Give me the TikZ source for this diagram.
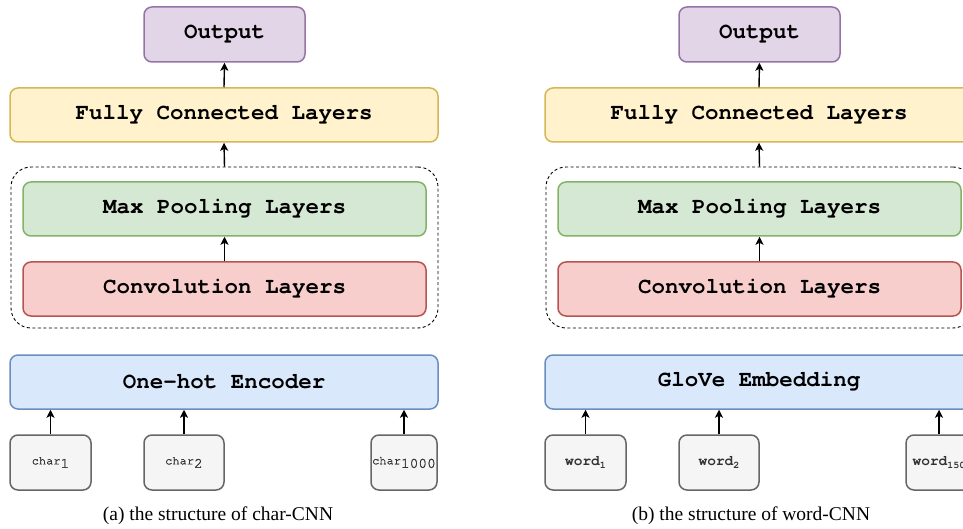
\documentclass[tikz,border=0pt]{standalone}
\usepackage{fontspec}
\setmainfont{Liberation Serif}
\setmonofont{TeX Gyre Cursor}
\newfontfamily\tokfont{TeX Gyre Cursor}[FakeBold=1.6]
\usetikzlibrary{arrows.meta}

\definecolor{outF}{HTML}{E1D5E7}\definecolor{outD}{HTML}{9673A6}
\definecolor{fcF}{HTML}{FFF2CC}\definecolor{fcD}{HTML}{D6B656}
\definecolor{poolF}{HTML}{D5E8D4}\definecolor{poolD}{HTML}{82B366}
\definecolor{convF}{HTML}{F8CECC}\definecolor{convD}{HTML}{B85450}
\definecolor{encF}{HTML}{DAE8FC}\definecolor{encD}{HTML}{6C8EBF}
\definecolor{inF}{HTML}{F5F5F5}\definecolor{inD}{HTML}{666666}
\definecolor{inT}{HTML}{333333}

% subscript index used in the input tokens
\newcommand\tokidx[2]{\raisebox{-3.5pt}{\fontsize{#1}{#1}\selectfont #2}}

\tikzset{
  layer/.style={draw, rounded corners=8pt, line width=1.5pt, inner sep=0pt,
    minimum height=54pt, text=black,
    font=\fontsize{22.5}{27}\selectfont\ttfamily\bfseries},
  outbox/.style={layer, fill=outF, draw=outD, minimum width=161pt, minimum height=55pt},
  fcbox/.style={layer, fill=fcF, draw=fcD, minimum width=428pt},
  poolbox/.style={layer, fill=poolF, draw=poolD, minimum width=403pt},
  convbox/.style={layer, fill=convF, draw=convD, minimum width=403pt},
  encbox/.style={layer, fill=encF, draw=encD, minimum width=428pt},
  group/.style={draw, dash pattern=on 3pt off 2.5pt, line width=0.9pt,
    rounded corners=20pt, minimum width=427pt, minimum height=161pt, inner sep=0pt},
  token/.style={draw=inD, fill=inF, rounded corners=8pt, line width=1.5pt,
    inner sep=0pt, minimum height=55pt, text=inT},
  chartok/.style={token, font=\fontsize{12}{14}\selectfont\tokfont},
  wordtok/.style={token, font=\fontsize{14.5}{16}\selectfont\ttfamily\bfseries},
  arr/.style={line width=1.4pt, -{Stealth[length=8pt,width=8pt,inset=2pt]}},
  caption/.style={font=\fontsize{19.5}{22}\selectfont, text=black}
}

\begin{document}
\begin{tikzpicture}[x=1pt,y=-1pt]
\path[use as bounding box, clip] (0,0) rectangle (963,529);

% ---------- (a) char-CNN ----------
\node[group] (a-grp) at (224.5,247.5) {};
\node[outbox] (a-out) at (224.5,34.5) {Output};
\node[fcbox] (a-fc) at (224,115) {Fully Connected Layers};
\node[poolbox] (a-pool) at (224.5,209) {Max Pooling Layers};
\node[convbox] (a-conv) at (224.5,289) {Convolution Layers};
\node[encbox] (a-enc) at (224,382) {One-hot Encoder};
\node[chartok, minimum width=81pt] (a-in1) at (50.5,462.5) {char\tokidx{14.5}{1}};
\node[chartok, minimum width=80pt] (a-in2) at (184,462.5) {char\tokidx{14.5}{2}};
\node[chartok, minimum width=66pt] (a-in3) at (404,462.5) {char\tokidx{14.5}{1000}};
\node[caption] (a-cap) at (218,516) {(a) the structure of char-CNN};

\draw[arr] (a-fc.north) -- (a-out.south);
\draw[arr] (a-grp.north) -- (a-fc.south);
\draw[arr] (a-conv.north) -- (a-pool.south);
\foreach \i in {1,2,3}
  \draw[arr] (a-in\i.north) -- (a-in\i.north |- a-enc.south);

% ---------- (b) word-CNN ----------
\begin{scope}[xshift=535pt]
\node[group] (b-grp) at (224.5,247.5) {};
\node[outbox] (b-out) at (224.5,34.5) {Output};
\node[fcbox] (b-fc) at (224,115) {Fully Connected Layers};
\node[poolbox] (b-pool) at (224.5,209) {Max Pooling Layers};
\node[convbox] (b-conv) at (224.5,289) {Convolution Layers};
\node[encbox] (b-enc) at (224,382) {GloVe Embedding};
\node[wordtok, minimum width=81pt] (b-in1) at (50.5,462.5) {word\tokidx{10}{1}};
\node[wordtok, minimum width=80pt] (b-in2) at (184,462.5) {word\tokidx{10}{2}};
\node[wordtok, minimum width=66pt] (b-in3) at (404,462.5) {word\tokidx{10}{150}};
\node[caption] (b-cap) at (216,516) {(b) the structure of word-CNN};

\draw[arr] (b-fc.north) -- (b-out.south);
\draw[arr] (b-grp.north) -- (b-fc.south);
\draw[arr] (b-conv.north) -- (b-pool.south);
\foreach \i in {1,2,3}
  \draw[arr] (b-in\i.north) -- (b-in\i.north |- b-enc.south);
\end{scope}
\end{tikzpicture}
\end{document}
